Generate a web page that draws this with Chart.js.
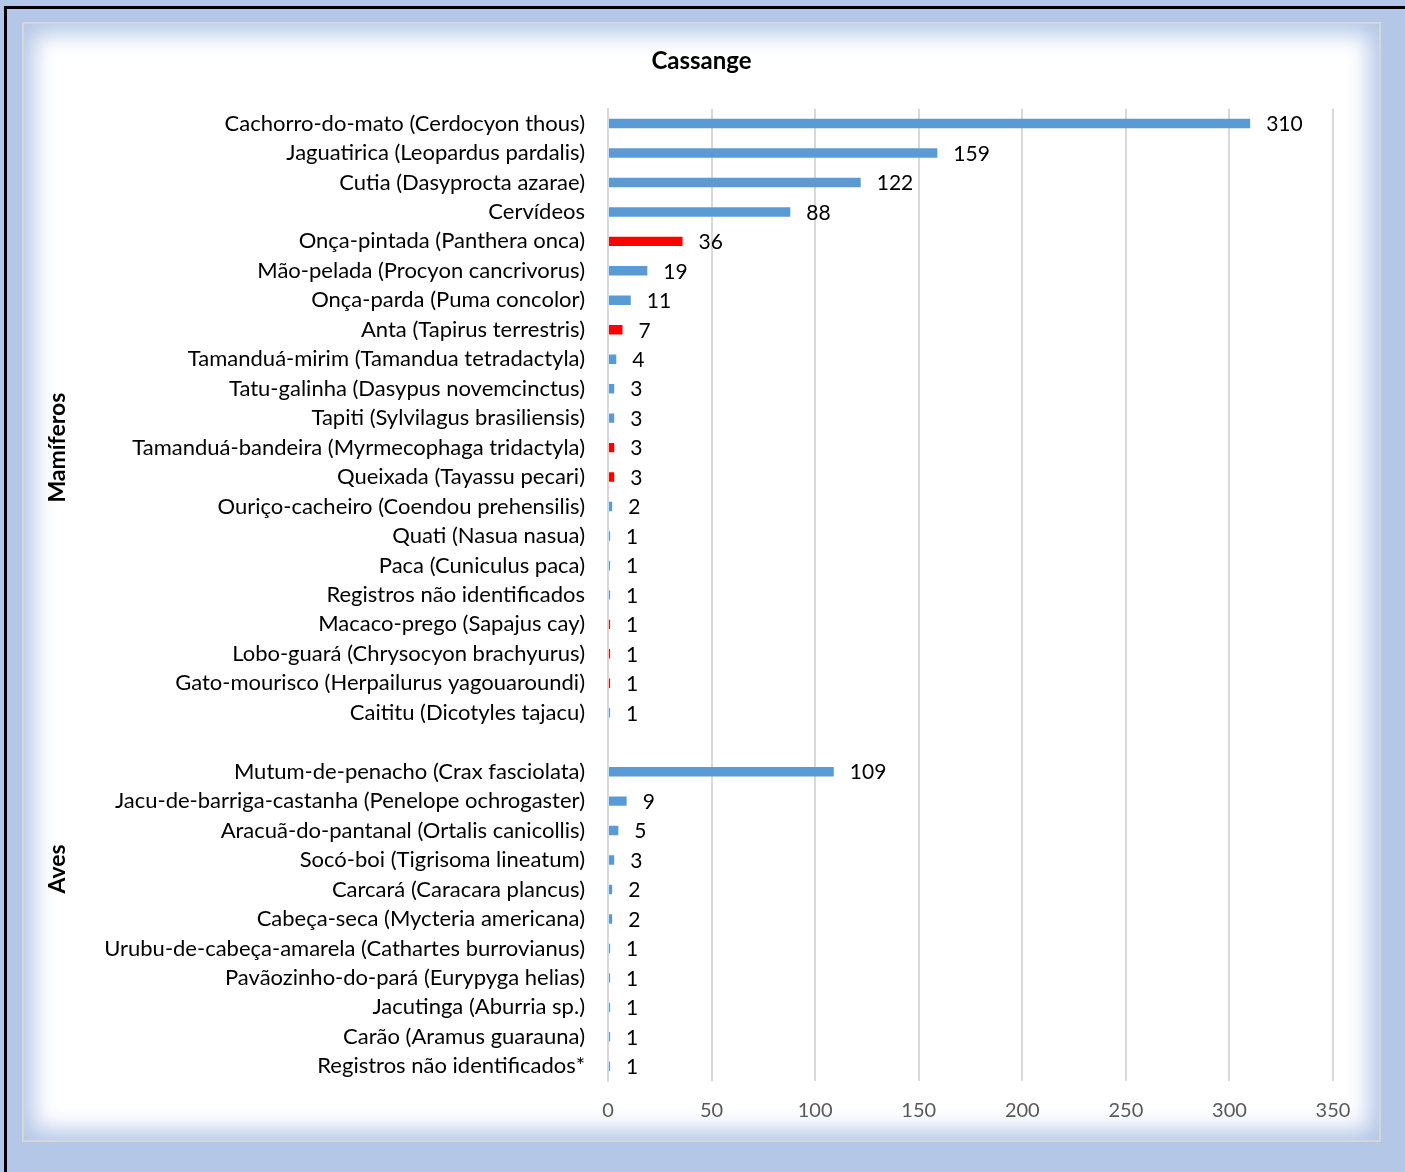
<!DOCTYPE html>
<html>
<head>
<meta charset="utf-8">
<script src="https://cdn.jsdelivr.net/npm/chart.js@4.4.1/dist/chart.umd.min.js"></script>
<style>
  html, body { margin: 0; padding: 0; }
  body { width: 1405px; height: 1172px; background: #b4c7e7; position: relative; overflow: hidden; }
  #outer { position: absolute; left: 4px; top: 6px; width: 1500px; height: 1300px; border-left: 3px solid #000; border-top: 3px solid #000; }
  #panel { position: absolute; left: 22px; top: 22px; width: 1355px; height: 1116px; background: #fff;
           border: 2px solid #d4d6da; box-shadow: inset 0 0 22px 10px #b4c7e7; }
  #wrap { position: absolute; left: 0; top: 0; width: 1405px; height: 1172px; }
</style>
</head>
<body>
<div id="outer"></div>
<div id="panel"></div>
<div id="wrap"><canvas id="myChart" width="1405" height="1172"></canvas></div>
<script>
// Species names (blank entry = gap between the two groups)
const labels = [
    'Cachorro-do-mato (Cerdocyon thous)',
    'Jaguatirica (Leopardus pardalis)',
    'Cutia (Dasyprocta azarae)',
    'Cervídeos',
    'Onça-pintada (Panthera onca)',
    'Mão-pelada (Procyon cancrivorus)',
    'Onça-parda (Puma concolor)',
    'Anta (Tapirus terrestris)',
    'Tamanduá-mirim (Tamandua tetradactyla)',
    'Tatu-galinha (Dasypus novemcinctus)',
    'Tapiti (Sylvilagus brasiliensis)',
    'Tamanduá-bandeira (Myrmecophaga tridactyla)',
    'Queixada (Tayassu pecari)',
    'Ouriço-cacheiro (Coendou prehensilis)',
    'Quati (Nasua nasua)',
    'Paca (Cuniculus paca)',
    'Registros não identificados',
    'Macaco-prego (Sapajus cay)',
    'Lobo-guará (Chrysocyon brachyurus)',
    'Gato-mourisco (Herpailurus yagouaroundi)',
    'Caititu (Dicotyles tajacu)',
    '',
    'Mutum-de-penacho (Crax fasciolata)',
    'Jacu-de-barriga-castanha (Penelope ochrogaster)',
    'Aracuã-do-pantanal (Ortalis canicollis)',
    'Socó-boi (Tigrisoma lineatum)',
    'Carcará (Caracara plancus)',
    'Cabeça-seca (Mycteria americana)',
    'Urubu-de-cabeça-amarela (Cathartes burrovianus)',
    'Pavãozinho-do-pará (Eurypyga helias)',
    'Jacutinga (Aburria sp.)',
    'Carão (Aramus guarauna)',
    'Registros não identificados*'
];

// Number of records
const values = [310, 159, 122, 88, 36, 19, 11, 7, 4, 3, 3, 3, 3, 2, 1, 1, 1, 1, 1, 1, 1,
                null,
                109, 9, 5, 3, 2, 2, 1, 1, 1, 1, 1];

// Threatened species are highlighted in red
const threatened = [false, false, false, false, true, false, false, true, false, false, false, true, true, false, false, false, false, true, true, true, false,
                    false,
                    false, false, false, false, false, false, false, false, false, false, false];

// Group labels and the row they sit next to
const groupNames = ['Mamíferos', 'Aves'];
const groupRows = [11, 25.3];

const xTicks = [0, 50, 100, 150, 200, 250, 300, 350];

const barColors = threatened.map(t => t ? '#ff0000' : '#5b9bd5');

// Value labels at the end of each bar
const valueLabels = {
    id: 'valueLabels',
    afterDatasetsDraw(chart) {
        const ctx = chart.ctx;
        const meta = chart.getDatasetMeta(0);
        ctx.save();
        ctx.font = '21px Lato';
        ctx.fillStyle = '#000';
        ctx.textAlign = 'left';
        ctx.textBaseline = 'middle';
        meta.data.forEach((bar, i) => {
            if (values[i] == null) return;
            ctx.fillText(values[i], bar.x + 16, bar.y + 1);
        });
        ctx.restore();
    }
};

// Rotated group names on the left
const groupLabels = {
    id: 'groupLabels',
    afterDraw(chart) {
        const ctx = chart.ctx;
        const y = chart.scales.y;
        ctx.save();
        ctx.font = 'bold 23px Lato';
        ctx.fillStyle = '#000';
        ctx.textAlign = 'center';
        ctx.textBaseline = 'middle';
        groupNames.forEach((name, i) => {
            const py = y.getPixelForValue(groupRows[i]);
            ctx.save();
            ctx.translate(58, py);
            ctx.rotate(-Math.PI / 2);
            ctx.fillText(name, 0, 0);
            ctx.restore();
        });
        ctx.restore();
    }
};

const ctx = document.getElementById('myChart').getContext('2d');

const myChart = new Chart(ctx, {
    type: 'bar',
    data: {
        labels: labels,
        datasets: [{
            data: values,
            backgroundColor: barColors,
            borderWidth: 0,
            categoryPercentage: 1,
            barPercentage: 0.32
        }]
    },
    options: {
        indexAxis: 'y',
        responsive: false,
        animation: false,
        layout: { padding: { left: 70, right: 72, top: 0, bottom: 31 } },
        plugins: {
            legend: { display: false },
            tooltip: { enabled: false },
            title: {
                display: true,
                text: 'Cassange',
                color: '#000',
                font: { family: 'Lato', size: 24, weight: 'bold' },
                padding: { top: 47, bottom: 33 }
            }
        },
        scales: {
            x: {
                min: 0,
                max: 350,
                afterBuildTicks: (s) => { s.ticks = xTicks.map(v => ({ value: v })); },
                grid: { color: '#d9d9d9', lineWidth: 2, drawTicks: false },
                border: { display: false },
                ticks: { color: '#595959', font: { family: 'Lato', size: 20 }, padding: 18 }
            },
            y: {
                afterFit: (s) => { s.width = 538; },
                grid: { display: false },
                border: { display: true, color: '#d9d9d9', width: 2 },
                ticks: { color: '#000', font: { family: 'Lato', size: 22 }, padding: 15, autoSkip: false }
            }
        }
    },
    plugins: [valueLabels, groupLabels]
});
</script>
</body>
</html>
